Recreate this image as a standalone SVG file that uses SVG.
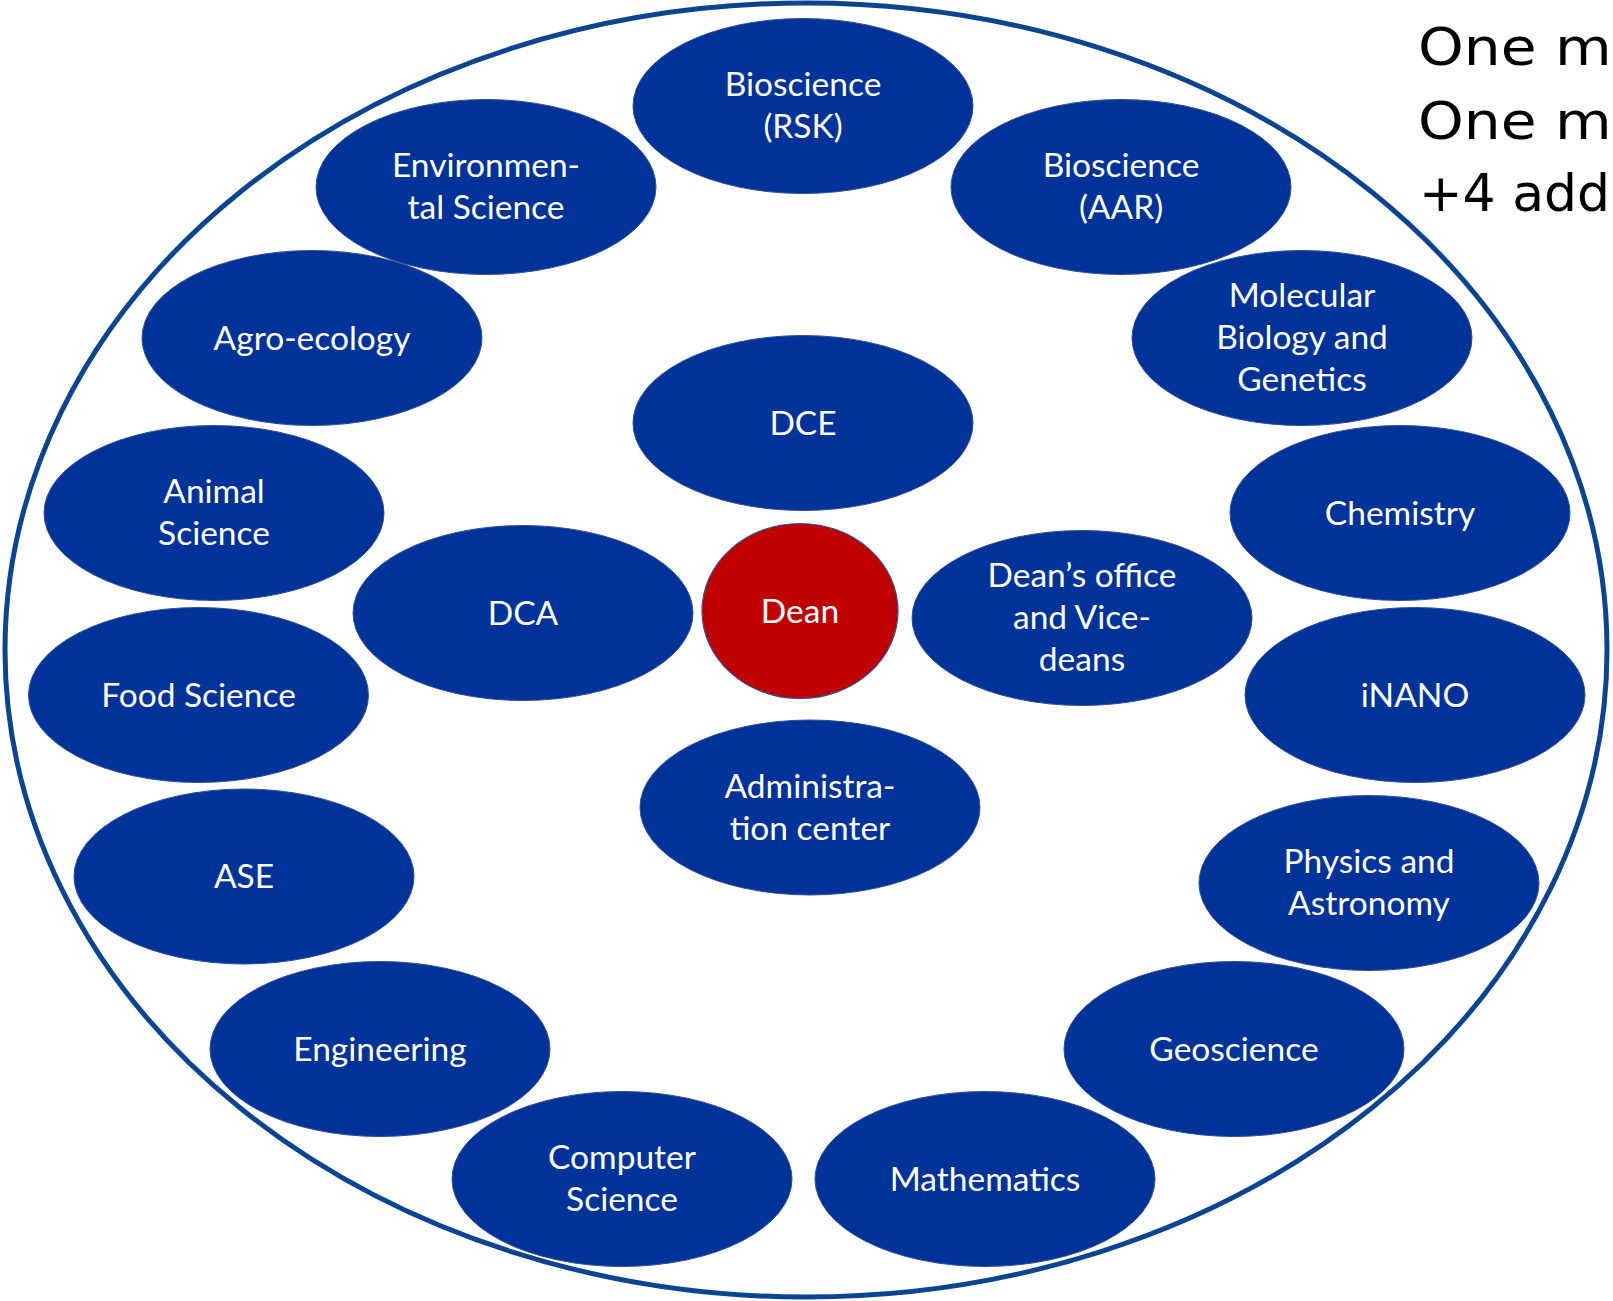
<svg xmlns="http://www.w3.org/2000/svg" width="1613" height="1301" viewBox="0 0 1613 1301">
<defs>
<style>
.node{fill:#003399;stroke:#2F4F8F;stroke-width:1}
.dean{fill:#C00000;stroke:#2F4F8F;stroke-width:1.2}
.lbl{font-family:Lato,"Open Sans","Liberation Sans",sans-serif;font-size:33.5px;fill:#FFFFFF;text-anchor:middle}
.side{font-family:"DejaVu Sans","Liberation Sans",sans-serif;font-size:52px;fill:#000000}
</style>
</defs>
<rect x="0" y="0" width="1613" height="1301" fill="#FFFFFF"/>
<ellipse id="outer" cx="806" cy="650" rx="801" ry="647" fill="none" stroke="#0B4592" stroke-width="5"/>
<g id="connectors"></g>
<g id="bio-rsk"><ellipse class="node" cx="803" cy="106" rx="170" ry="87.5"/><text class="lbl" x="803" y="96">Bioscience</text><text class="lbl" x="803" y="138">(RSK)</text></g>
<g id="env"><ellipse class="node" cx="486" cy="187" rx="170" ry="87.5"/><text class="lbl" x="486" y="177">Environmen-</text><text class="lbl" x="486" y="219">tal Science</text></g>
<g id="bio-aar"><ellipse class="node" cx="1121" cy="187" rx="170" ry="87.5"/><text class="lbl" x="1121" y="177">Bioscience</text><text class="lbl" x="1121" y="219">(AAR)</text></g>
<g id="agro"><ellipse class="node" cx="312" cy="338" rx="170" ry="87.5"/><text class="lbl" x="312" y="349.5">Agro-ecology</text></g>
<g id="mbg"><ellipse class="node" cx="1302" cy="338" rx="170" ry="87.5"/><text class="lbl" x="1302" y="307">Molecular</text><text class="lbl" x="1302" y="349">Biology and</text><text class="lbl" x="1302" y="391">Genetics</text></g>
<g id="dce"><ellipse class="node" cx="803" cy="423" rx="170" ry="87.5"/><text class="lbl" x="803" y="434.5">DCE</text></g>
<g id="animal"><ellipse class="node" cx="214" cy="513" rx="170" ry="87.5"/><text class="lbl" x="214" y="503">Animal</text><text class="lbl" x="214" y="545">Science</text></g>
<g id="chem"><ellipse class="node" cx="1400" cy="513" rx="170" ry="87.5"/><text class="lbl" x="1400" y="524.5">Chemistry</text></g>
<g id="dca"><ellipse class="node" cx="523" cy="613" rx="170" ry="87.5"/><text class="lbl" x="523" y="624.5">DCA</text></g>
<g id="dean"><ellipse class="dean" cx="800" cy="611" rx="98" ry="87.5"/><text class="lbl" x="800" y="622.5">Dean</text></g>
<g id="deans-office"><ellipse class="node" cx="1082" cy="618" rx="170" ry="87.5"/><text class="lbl" x="1082" y="587">Dean’s office</text><text class="lbl" x="1082" y="629">and Vice-</text><text class="lbl" x="1082" y="671">deans</text></g>
<g id="food"><ellipse class="node" cx="198.5" cy="695" rx="170" ry="87.5"/><text class="lbl" x="198.5" y="706.5">Food Science</text></g>
<g id="inano"><ellipse class="node" cx="1415" cy="695" rx="170" ry="87.5"/><text class="lbl" x="1415" y="706.5">iNANO</text></g>
<g id="admin"><ellipse class="node" cx="810" cy="807.5" rx="170" ry="87.5"/><text class="lbl" x="810" y="797.5">Administra-</text><text class="lbl" x="810" y="839.5">tion center</text></g>
<g id="ase"><ellipse class="node" cx="244" cy="876.5" rx="170" ry="87.5"/><text class="lbl" x="244" y="888">ASE</text></g>
<g id="phys"><ellipse class="node" cx="1369" cy="883" rx="170" ry="87.5"/><text class="lbl" x="1369" y="873">Physics and</text><text class="lbl" x="1369" y="915">Astronomy</text></g>
<g id="eng"><ellipse class="node" cx="380" cy="1049" rx="170" ry="87.5"/><text class="lbl" x="380" y="1060.5">Engineering</text></g>
<g id="geo"><ellipse class="node" cx="1234" cy="1049" rx="170" ry="87.5"/><text class="lbl" x="1234" y="1060.5">Geoscience</text></g>
<g id="cs"><ellipse class="node" cx="622" cy="1179" rx="170" ry="87.5"/><text class="lbl" x="622" y="1169">Computer</text><text class="lbl" x="622" y="1211">Science</text></g>
<g id="math"><ellipse class="node" cx="985" cy="1179" rx="170" ry="87.5"/><text class="lbl" x="985" y="1190.5">Mathematics</text></g>
<g id="side-text">
<g transform="translate(1418,0) scale(1.12,1)">
<text class="side" x="0" y="65">One m</text>
<text class="side" x="0" y="139">One m</text>
</g>
<text class="side" x="1419" y="211">+4 add</text>
</g>
</svg>
